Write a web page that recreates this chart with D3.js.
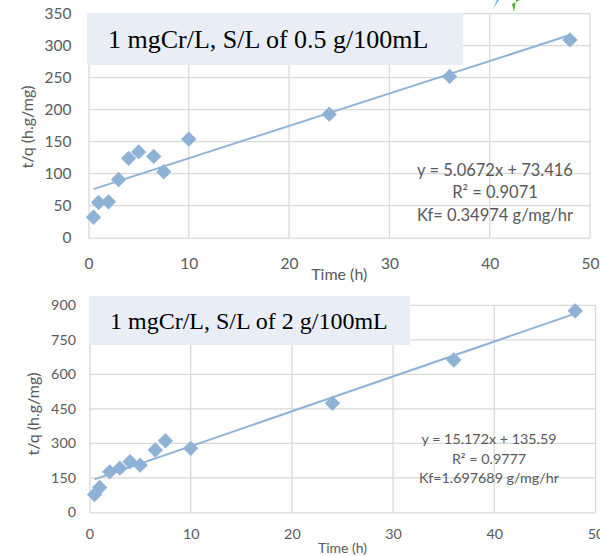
<!DOCTYPE html>
<html>
<head>
<meta charset="utf-8">
<script src="https://cdn.jsdelivr.net/npm/d3@7"></script>
<style>
  body { margin: 0; background: #fff; }
  svg text { font-family: Lato, "Open Sans", sans-serif; fill: #595959; }
</style>
</head>
<body>
<div id="chart"></div>
<script>
// data
var time_h = [0.5, 1, 2, 3, 4, 5, 6.5, 7.5, 10, 24, 36, 48];
var tq_05 = [32, 55, 56, 91, 124, 134, 127, 103, 154, 193, 252, 309];
var tq_2 = [77, 108, 176, 192, 220, 205, 271, 311, 278, 474, 662, 876];
var titles = ['1 mgCr/L, S/L of 0.5 g/100mL', '1 mgCr/L, S/L of 2 g/100mL'];
var fits = [{slope: 5.0672, icpt: 73.416}, {slope: 15.172, icpt: 135.59}];
var fit_labels = [
    ['y = 5.0672x + 73.416', 'R\u00b2 = 0.9071', 'Kf= 0.34974 g/mg/hr'],
    ['y = 15.172x + 135.59', 'R\u00b2 = 0.9777', 'Kf=1.697689 g/mg/hr']
];
var xticks = [0, 10, 20, 30, 40, 50];
var yticks_05 = [0, 50, 100, 150, 200, 250, 300, 350];
var yticks_2 = [0, 150, 300, 450, 600, 750, 900];

var svg = d3.select('#chart').append('svg')
    .attr('width', 600).attr('height', 556);

// little logo fragment peeking at the top
svg.append('path').attr('d', 'M493,9 L499,0 L497,0 Z').attr('fill', '#5aaee6');
svg.append('path').attr('d', 'M514,12 L512,4 L520,0 L516,0 Z').attr('fill', '#4caf2a');

var color = '#8eb2d6';

function panel(cfg){
    var x = d3.scaleLinear().domain([0, 50]).range([cfg.left, cfg.right]);
    var y = d3.scaleLinear().domain([0, d3.max(cfg.yticks)]).range([cfg.bottom, cfg.top]);
    var g = svg.append('g');

    // gridlines
    g.append('g').selectAll('line').data(cfg.yticks.slice(1)).enter()
        .append('line')
        .attr('x1', cfg.left).attr('x2', cfg.right)
        .attr('y1', function(d){ return y(d) }).attr('y2', function(d){ return y(d) })
        .attr('stroke', '#d9d9d9').attr('stroke-width', 1.3);
    g.append('g').selectAll('line').data(xticks.slice(1)).enter()
        .append('line')
        .attr('y1', cfg.top).attr('y2', cfg.bottom)
        .attr('x1', function(d){ return x(d) }).attr('x2', function(d){ return x(d) })
        .attr('stroke', '#d9d9d9').attr('stroke-width', 1.3);

    // axes
    var xAxis = d3.axisBottom(x).tickValues(xticks).tickSize(0).tickPadding(cfg.xpad);
    var yAxis = d3.axisLeft(y).tickValues(cfg.yticks).tickSize(0).tickPadding(cfg.ypad);
    var gx = g.append('g').attr('transform', 'translate(0,' + cfg.bottom + ')').call(xAxis);
    var gy = g.append('g').attr('transform', 'translate(' + cfg.left + ',0)').call(yAxis);
    gx.select('.domain').attr('stroke', '#d9d9d9').attr('stroke-width', 1.3);
    gy.select('.domain').attr('stroke', '#d9d9d9').attr('stroke-width', 1.3);
    g.selectAll('.tick text').attr('font-size', cfg.fs).attr('fill', '#595959')
        .style('font-family', 'Lato, sans-serif');

    // title box
    g.append('rect')
        .attr('x', cfg.box[0]).attr('y', cfg.box[1])
        .attr('width', cfg.box[2]).attr('height', cfg.box[3])
        .attr('fill', '#e9eef6');
    g.append('text')
        .attr('x', cfg.box[0] + 21).attr('y', cfg.box[4])
        .attr('font-size', cfg.box[5])
        .style('font-family', '"Liberation Serif", "Times New Roman", serif')
        .style('fill', '#000')
        .text(cfg.title);

    // trendline
    g.append('line')
        .attr('x1', x(d3.min(time_h))).attr('x2', x(d3.max(time_h)))
        .attr('y1', y(cfg.fit.slope * d3.min(time_h) + cfg.fit.icpt))
        .attr('y2', y(cfg.fit.slope * d3.max(time_h) + cfg.fit.icpt))
        .attr('stroke', color).attr('stroke-width', 2);

    // diamonds
    g.append('g').selectAll('path').data(cfg.values).enter()
        .append('path')
        .attr('d', d3.symbol().type(d3.symbolDiamond2).size(150))
        .attr('transform', function(d, i){
            return 'translate(' + x(time_h[i]) + ',' + y(d) + ')';
        })
        .attr('fill', color);

    // fit labels
    g.append('g').selectAll('text').data(cfg.labels).enter()
        .append('text')
        .attr('x', cfg.lab[0])
        .attr('y', function(d, i){ return cfg.lab[1] + i * cfg.lab[2] })
        .attr('text-anchor', 'middle')
        .attr('font-size', cfg.lab[3])
        .text(function(d){ return d });

    // axis titles
    g.append('text')
        .attr('x', (cfg.left + cfg.right) / 2).attr('y', cfg.xtitle)
        .attr('text-anchor', 'middle').attr('font-size', cfg.tfs[0])
        .text('Time (h)');
    g.append('text')
        .attr('transform', 'translate(' + cfg.ytitle[0] + ',' + cfg.ytitle[1] + ') rotate(-90)')
        .attr('text-anchor', 'middle').attr('font-size', cfg.tfs[1])
        .text('t/q (h.g/mg)');
}

panel({
    left: 88.5, right: 590, top: 13.7, bottom: 237.7,
    yticks: yticks_05, values: tq_05, fit: fits[0], title: titles[0],
    labels: fit_labels[0], lab: [495, 175.5, 22.5, 16.5], fs: 15.5,
    box: [87, 13, 376, 52, 48, 26], xpad: 20, ypad: 17,
    xtitle: 280, ytitle: [33, 127], tfs: [16, 16]
});

panel({
    left: 89.5, right: 595.5, top: 305.3, bottom: 512.3,
    yticks: yticks_2, values: tq_2, fit: fits[1], title: titles[1],
    labels: fit_labels[1], lab: [489, 444, 19.5, 14.3], fs: 14.3,
    box: [89, 296, 321, 49, 329, 24], xpad: 17, ypad: 13.5,
    xtitle: 553, ytitle: [38.5, 414], tfs: [14, 16]
});
</script>
</body>
</html>
